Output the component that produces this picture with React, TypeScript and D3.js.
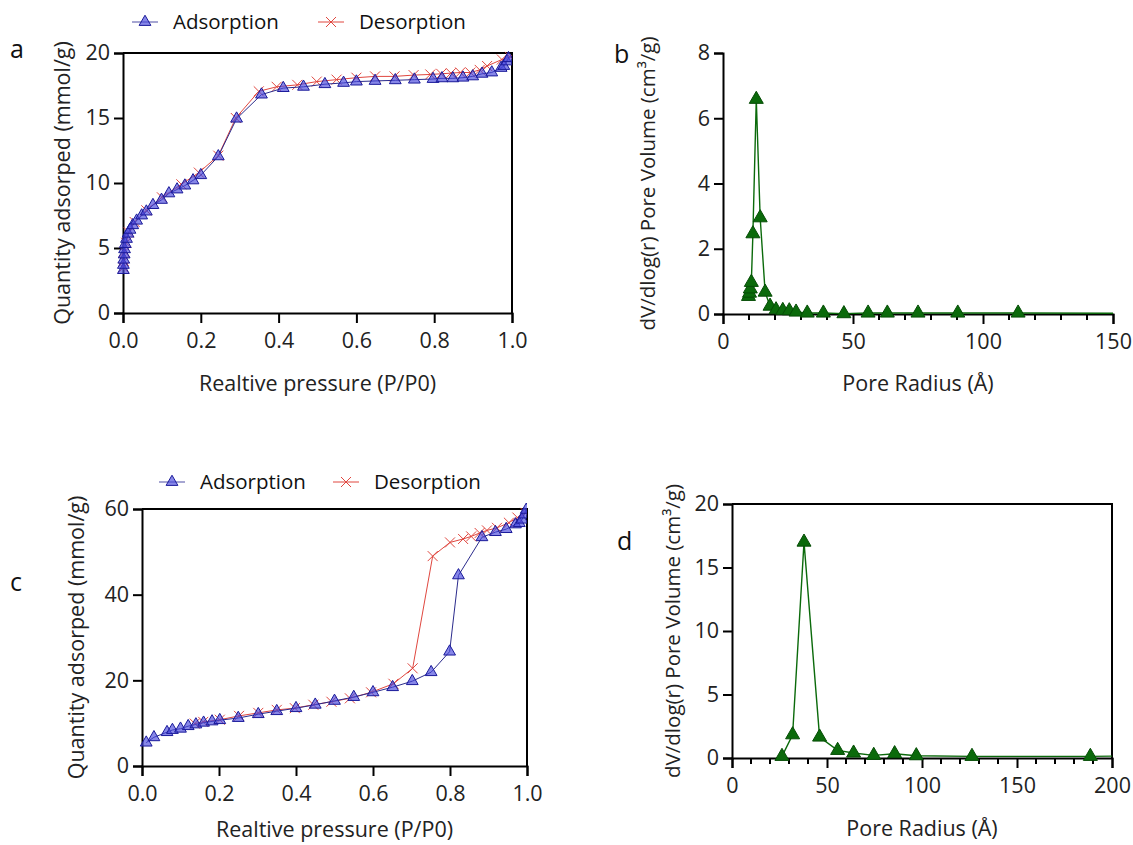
import { useEffect, useRef } from 'react'
import * as d3 from 'd3'

// panel a: isotherm (P/P0, mmol/g)
const adsorptionA: [number, number][] = [
  [0.001, 3.3], [0.001, 3.7], [0.002, 4.1], [0.003, 4.5], [0.004, 4.9], [0.006, 5.3],
  [0.009, 5.7], [0.013, 6.1], [0.018, 6.4], [0.025, 6.75], [0.035, 7.1], [0.048, 7.5],
  [0.06, 7.8], [0.077, 8.3], [0.099, 8.7], [0.118, 9.2], [0.139, 9.5], [0.159, 9.8],
  [0.18, 10.2], [0.2, 10.6], [0.245, 12.05], [0.292, 14.95], [0.356, 16.8], [0.412, 17.3],
  [0.464, 17.4], [0.519, 17.6], [0.567, 17.7], [0.6, 17.8], [0.648, 17.85], [0.7, 17.9],
  [0.749, 17.95], [0.797, 18.0], [0.82, 18.05], [0.848, 18.05], [0.874, 18.1], [0.899, 18.2],
  [0.923, 18.4], [0.948, 18.5], [0.972, 18.85], [0.979, 19.0], [0.987, 19.35], [0.991, 19.6],
]
const desorptionA: [number, number][] = [
  [0.995, 19.7], [0.974, 19.5], [0.936, 19.0], [0.917, 18.7], [0.893, 18.5], [0.867, 18.5],
  [0.843, 18.45], [0.818, 18.4], [0.79, 18.35], [0.747, 18.3], [0.698, 18.2], [0.648, 18.2],
  [0.6, 18.1], [0.549, 17.95], [0.498, 17.8], [0.448, 17.55], [0.395, 17.4], [0.349, 17.05],
  [0.29, 15.0], [0.245, 12.1], [0.195, 10.8], [0.15, 9.9], [0.1, 8.9], [0.06, 7.9],
  [0.03, 7.0], [0.015, 6.2], [0.008, 5.4], [0.004, 4.7], [0.002, 4.0], [0.001, 3.5],
]

// panel b: pore size distribution (Å, cm3/g)
const poreB: [number, number][] = [
  [9.8, 0.54], [10.2, 0.64], [10.5, 0.77], [10.9, 0.97], [11.5, 2.46], [12.8, 6.58],
  [14.3, 2.95], [16.2, 0.67], [18.1, 0.24], [20.4, 0.13], [23, 0.11], [25.5, 0.1],
  [28.1, 0.06], [32.4, 0.03], [38.6, 0.03], [46.5, 0.01], [55.8, 0.03], [63.2, 0.03],
  [75, 0.03], [90.3, 0.03], [113.5, 0.03], [180, 0.02],
]

// panel c: isotherm
const adsorptionC: [number, number][] = [
  [0.011, 5.45], [0.031, 6.7], [0.065, 7.9], [0.079, 8.4], [0.1, 8.7], [0.12, 9.3],
  [0.14, 9.7], [0.16, 10.1], [0.182, 10.4], [0.202, 10.7], [0.25, 11.2], [0.302, 12.1],
  [0.35, 12.8], [0.4, 13.5], [0.45, 14.3], [0.5, 15.2], [0.55, 16.1], [0.6, 17.2],
  [0.651, 18.4], [0.702, 19.8], [0.751, 21.9], [0.799, 26.7], [0.822, 44.5], [0.883, 53.4],
  [0.918, 54.6], [0.946, 55.3], [0.97, 56.4], [0.98, 56.7], [0.987, 57.5], [0.993, 58.7],
  [0.998, 59.8],
]
const desorptionC: [number, number][] = [
  [0.996, 59.1], [0.975, 58.0], [0.953, 56.8], [0.922, 55.6], [0.896, 55.0], [0.877, 54.4],
  [0.855, 53.6], [0.834, 53.0], [0.8, 52.2], [0.755, 49.0], [0.703, 22.8], [0.653, 19.2],
  [0.595, 17.2], [0.54, 15.8], [0.492, 15.0], [0.445, 14.3], [0.397, 13.5], [0.35, 13.1],
  [0.302, 12.4], [0.252, 11.7], [0.202, 10.8], [0.159, 10.3], [0.137, 9.9],
]

// panel d: pore size distribution
const poreD: [number, number][] = [
  [26.3, 0.13], [31.9, 1.83], [37.9, 17.0], [46.1, 1.65], [55.6, 0.6], [64, 0.39],
  [74.6, 0.21], [85.6, 0.34], [97, 0.18], [126.3, 0.13], [188.6, 0.13], [240, 0.2],
]

const isoTicks = [0, 0.2, 0.4, 0.6, 0.8, 1.0]
const isoTitleX = 'Realtive pressure (P/P0)'
const isoTitleY = 'Quantity adsorped (mmol/g)'
const poreTitleX = 'Pore Radius (Å)'
const poreTitleY = 'dV/dlog(r) Pore Volume (cm³/g)'
const legendNames = ['Adsorption', 'Desorption']

const FONT = '"Open Sans", "Noto Sans", sans-serif'
const BLUE_LINE = '#2b2b8c'
const BLUE_FILL = 'rgba(70, 70, 220, 0.65)'
const BLUE_STROKE = '#1a1a9a'
const RED = '#e0473f'
const GREEN = '#0b6a0b'

type Panel = {
  id: string
  label: string
  box: { left: number; right: number; top: number; bottom: number }
  xDomain: [number, number]
  yDomain: [number, number]
  xTicks: number[]
  xMinor?: number[]
  yTicks: number[]
  xFmt: (v: number) => string
  frame: boolean
  labelPos: [number, number]
  yTitleX: number
  xTitleY: number
  yTitleSize: number
}

const App = () => {
  const svgRef = useRef<SVGSVGElement>(null)

  useEffect(() => {
    if (!svgRef.current) return
    const svg = d3.select(svgRef.current)
    svg.selectAll('*').remove()

    const tri = d3.symbol().type(d3.symbolTriangle)

    const drawPanel = (p: Panel) => {
      const { left, right, top, bottom } = p.box
      const x = d3.scaleLinear().domain(p.xDomain).range([left, right])
      const y = d3.scaleLinear().domain(p.yDomain).range([bottom, top])
      const g = svg.append('g')

      svg.append('clipPath').attr('id', `clip-${p.id}`)
        .append('rect')
        .attr('x', left - 8).attr('y', top - 8)
        .attr('width', right - left + 8).attr('height', bottom - top + 16)

      // frame
      if (p.frame) {
        g.append('path')
          .attr('d', `M${left},${top}H${right}V${bottom}`)
          .attr('fill', 'none').attr('stroke', '#000').attr('stroke-width', 2)
      }

      // y axis
      const yAxis = g.append('g').attr('transform', `translate(${left},0)`)
        .call(d3.axisLeft(y).tickValues(p.yTicks).tickSize(9).tickPadding(4).tickFormat(d3.format('d')))
      yAxis.select('.domain').attr('stroke-width', 2)
      yAxis.selectAll('.tick line').attr('stroke-width', 2)
      yAxis.selectAll('text').attr('font-family', FONT).attr('font-size', 21.5).attr('fill', '#222')

      // x axis
      const xAxis = g.append('g').attr('transform', `translate(0,${bottom})`)
        .call(d3.axisBottom(x).tickValues(p.xTicks).tickSize(10).tickPadding(10).tickFormat(p.xFmt as any))
      xAxis.select('.domain').attr('stroke-width', 2)
      xAxis.selectAll('.tick line').attr('stroke-width', 2)
      xAxis.selectAll('text').attr('font-family', FONT).attr('font-size', 21.5).attr('fill', '#222')

      if (p.xMinor) {
        g.append('g').selectAll('line')
          .data(p.xMinor.filter(v => !p.xTicks.includes(v)))
          .enter().append('line')
          .attr('x1', d => x(d)).attr('x2', d => x(d))
          .attr('y1', bottom).attr('y2', bottom + 6)
          .attr('stroke', '#000').attr('stroke-width', 2)
      }

      // panel letter
      g.append('text')
        .attr('x', p.labelPos[0]).attr('y', p.labelPos[1])
        .attr('font-family', FONT).attr('font-size', 25).attr('fill', '#111')
        .text(p.label)

      return { x, y, g, clip: `url(#clip-${p.id})` }
    }

    const axisTitles = (p: Panel, tx: string, ty: string) => {
      const { left, right, top, bottom } = p.box
      svg.append('text')
        .attr('x', (left + right) / 2).attr('y', p.xTitleY)
        .attr('text-anchor', 'middle').attr('font-family', FONT).attr('font-size', 21.5).attr('fill', '#222')
        .text(tx)
      svg.append('text')
        .attr('transform', `translate(${p.yTitleX},${(top + bottom) / 2}) rotate(-90)`)
        .attr('text-anchor', 'middle').attr('font-family', FONT).attr('font-size', p.yTitleSize).attr('fill', '#222')
        .text(ty)
    }

    const drawIsotherm = (p: Panel, ads: [number, number][], des: [number, number][], legendX: number[], legendY: number) => {
      const { x, y, g, clip } = drawPanel(p)
      axisTitles(p, isoTitleX, isoTitleY)
      const line = d3.line<[number, number]>().x(d => x(d[0])).y(d => y(d[1]))
      const marks = g.append('g').attr('clip-path', clip)

      marks.append('path').datum(des)
        .attr('d', line).attr('fill', 'none').attr('stroke', RED).attr('stroke-width', 1)
      const cross = (cx: number, cy: number, s: number, sel: any) => {
        sel.append('path')
          .attr('d', `M${cx - s},${cy - s}L${cx + s},${cy + s}M${cx - s},${cy + s}L${cx + s},${cy - s}`)
          .attr('stroke', RED).attr('stroke-width', 1).attr('fill', 'none')
      }
      des.forEach(d => cross(x(d[0]), y(d[1]), 5, marks))

      marks.append('path').datum(ads)
        .attr('d', line).attr('fill', 'none').attr('stroke', BLUE_LINE).attr('stroke-width', 1)
      marks.selectAll('.ads').data(ads).enter().append('path')
        .attr('class', 'ads')
        .attr('d', tri.size(60)())
        .attr('transform', d => `translate(${x(d[0])},${y(d[1])})`)
        .attr('fill', BLUE_FILL).attr('stroke', BLUE_STROKE).attr('stroke-width', 1)

      // legend
      const lg = svg.append('g')
      lg.append('line').attr('x1', legendX[0] - 13).attr('x2', legendX[0] + 13)
        .attr('y1', legendY).attr('y2', legendY).attr('stroke', '#6b6bb5').attr('stroke-width', 1.2)
      lg.append('path').attr('d', tri.size(60)())
        .attr('transform', `translate(${legendX[0]},${legendY})`)
        .attr('fill', BLUE_FILL).attr('stroke', BLUE_STROKE)
      lg.append('line').attr('x1', legendX[1] - 13).attr('x2', legendX[1] + 13)
        .attr('y1', legendY).attr('y2', legendY).attr('stroke', RED).attr('stroke-width', 1)
      cross(legendX[1], legendY, 5, lg)
      legendNames.forEach((n, i) => {
        lg.append('text')
          .attr('x', legendX[i] + 28).attr('y', legendY + 7)
          .attr('font-family', FONT).attr('font-size', 20.5).attr('fill', '#111')
          .text(n)
      })
    }

    const drawPore = (p: Panel, data: [number, number][]) => {
      const { x, y, g, clip } = drawPanel(p)
      axisTitles(p, poreTitleX, poreTitleY)
      const line = d3.line<[number, number]>().x(d => x(d[0])).y(d => y(d[1]))
      const marks = g.append('g').attr('clip-path', clip)
      marks.append('path').datum(data)
        .attr('d', line).attr('fill', 'none').attr('stroke', GREEN).attr('stroke-width', 1.4)
      marks.selectAll('.pt').data(data).enter().append('path')
        .attr('class', 'pt')
        .attr('d', tri.size(85)())
        .attr('transform', d => `translate(${x(d[0])},${y(d[1])})`)
        .attr('fill', GREEN).attr('stroke', '#064d06').attr('stroke-width', 1)
    }

    drawIsotherm({
      id: 'a', label: 'a',
      box: { left: 123, right: 512, top: 53, bottom: 313 },
      xDomain: [0, 1], yDomain: [0, 20],
      xTicks: isoTicks, yTicks: [0, 5, 10, 15, 20],
      xFmt: d3.format('.1f'), frame: true,
      labelPos: [10, 58], yTitleX: 70, xTitleY: 391, yTitleSize: 21.5,
    }, adsorptionA, desorptionA, [145, 331], 22)

    drawPore({
      id: 'b', label: 'b',
      box: { left: 723, right: 1113, top: 53, bottom: 314 },
      xDomain: [0, 150], yDomain: [0, 8],
      xTicks: [0, 50, 100, 150], xMinor: d3.range(0, 151, 10), yTicks: [0, 2, 4, 6, 8],
      xFmt: d3.format('d'), frame: false,
      labelPos: [614, 63], yTitleX: 655, xTitleY: 391, yTitleSize: 20.5,
    }, poreB)

    drawIsotherm({
      id: 'c', label: 'c',
      box: { left: 142, right: 527, top: 509, bottom: 766 },
      xDomain: [0, 1], yDomain: [0, 60],
      xTicks: isoTicks, yTicks: [0, 20, 40, 60],
      xFmt: d3.format('.1f'), frame: true,
      labelPos: [10, 591], yTitleX: 84, xTitleY: 837, yTitleSize: 21.5,
    }, adsorptionC, desorptionC, [172, 346], 482)

    drawPore({
      id: 'd', label: 'd',
      box: { left: 732, right: 1112, top: 504, bottom: 758 },
      xDomain: [0, 200], yDomain: [0, 20],
      xTicks: [0, 50, 100, 150, 200], xMinor: d3.range(0, 201, 10), yTicks: [0, 5, 10, 15, 20],
      xFmt: d3.format('d'), frame: true,
      labelPos: [617, 550], yTitleX: 680, xTitleY: 836, yTitleSize: 20.5,
    }, poreD)
  }, [])

  return (
    <svg
      ref={svgRef}
      width={1133}
      height={845}
      style={{ position: 'absolute', left: 0, top: 0, background: '#fff' }}
    />
  )
}

export default App
